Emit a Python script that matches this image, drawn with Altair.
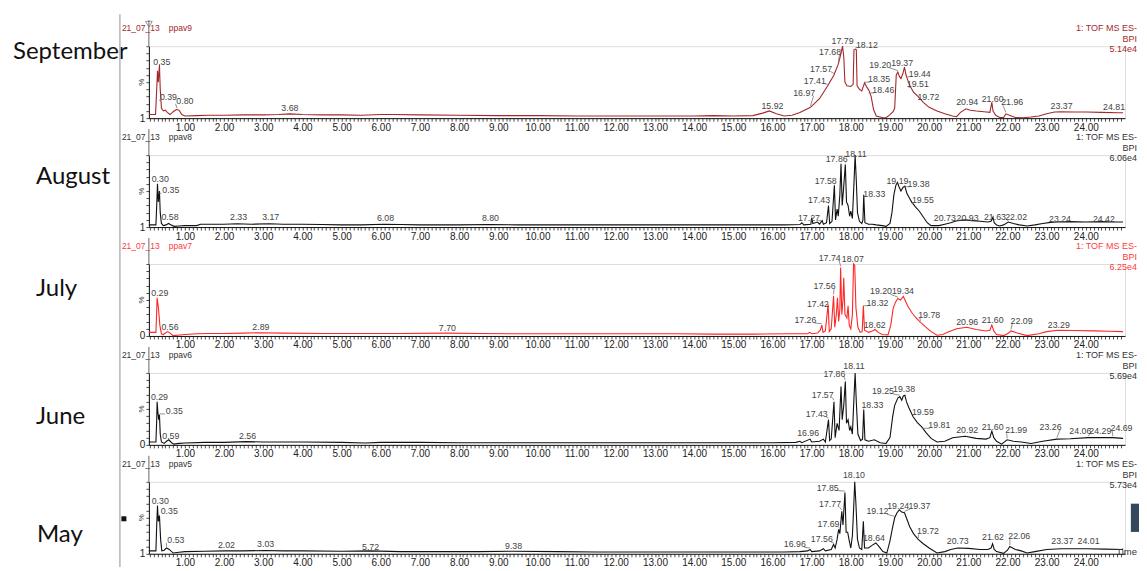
import altair as alt
import numpy as np
import pandas as pd

# ---------------- data ----------------
months = ["September", "August", "July", "June", "May"]
samples = ["ppav9", "ppav8", "ppav7", "ppav6", "ppav5"]
run_id = "21_07_13"
scale_txt = ["5.14e4", "6.06e4", "6.25e4", "5.69e4", "5.73e4"]
y_base_labels = ["1", "1", "0", "0", "1"]
line_colors = ["#a3282b", "#111111", "#ff2626", "#111111", "#111111"]
text_colors = ["#a3282b", "#333333", "#ff3b3b", "#333333", "#333333"]

x_domain = [0.08, 25.0]
x_tick_values = [round(0.1 * i, 1) for i in range(1, 250)]
y_tick_values = [0, 10, 20, 30, 40, 50, 60, 70, 80, 90, 100]

# (retention time, % intensity)
sep_pts = [(0.08,5),(0.25,5),(0.28,40),(0.30,66),(0.32,50),(0.35,74),(0.37,40),(0.40,14),(0.45,10),(0.50,11),
           (0.55,8),(0.62,5),(0.70,9),(0.78,12),(0.85,11),(0.92,5),(1.0,3),(1.3,3.5),(1.6,4),(2.0,4),(2.5,4.5),
           (3.0,4.5),(3.4,5),(3.68,6),(4.0,5),(4.5,4.5),(5.0,4.5),(5.5,4),(6.0,5),(6.3,5),(7.0,4.5),(8.0,4),
           (9.0,3.5),(10.0,3.5),(11.0,3),(12.0,3),(13.0,3),(14.0,3),(14.5,3.5),(15.0,3),(15.5,3.5),(15.75,7),
           (15.92,10),(16.1,6),(16.3,3),(16.5,4),(16.7,8),(16.97,15),(17.2,27),(17.41,45),(17.57,60),(17.68,75),
           (17.75,90),(17.79,100),(17.82,85),(17.85,50),(17.9,45),(18.0,44),(18.06,47),(18.08,95),(18.12,96),
           (18.14,95),(18.16,45),(18.22,40),(18.28,38),(18.35,49),(18.42,42),(18.46,39),(18.52,30),(18.58,12),
           (18.65,3),(18.8,1),(18.9,0.5),(19.0,5),(19.08,9),(19.12,14),(19.16,60),(19.20,64),(19.24,58),
           (19.28,55),(19.33,62),(19.37,71),(19.41,60),(19.44,55),(19.51,45),(19.6,36),(19.72,30),(19.85,22),
           (20.0,15),(20.2,10),(20.4,6),(20.6,3),(20.7,2),(20.8,8),(20.94,13),(21.05,11),(21.2,10),(21.4,9),
           (21.55,8),(21.6,22),(21.63,10),(21.7,4),(21.8,1),(21.9,1),(21.96,6),(22.05,4),(22.2,1),(22.4,0.5),
           (22.6,1.5),(22.8,3),(23.0,6),(23.2,8.5),(23.37,9),(23.7,8.5),(24.0,8.5),(24.4,8),(24.81,7.5),(24.95,7.5)]

aug_pts = [(0.08,3),(0.26,3),(0.28,30),(0.30,60),(0.32,35),(0.35,50),(0.37,20),(0.40,5),(0.45,2),(0.52,3),
           (0.58,5),(0.65,3),(0.72,1),(0.85,1.5),(1.0,2),(1.3,2),(1.4,4),(1.6,4),(2.0,4),(2.33,4.5),(2.7,4),
           (3.17,4.5),(3.5,4),(4.0,4),(4.5,3.5),(5.0,3),(5.5,3),(6.08,4),(6.5,3.5),(7.0,3),(8.0,3),(8.8,3.5),
           (9.5,3),(10.5,3),(11.5,3),(12.5,3),(13.5,3),(14.5,3),(15.5,3),(16.3,3),(16.7,3.5),(16.75,6),(16.8,3),
           (16.98,4),(17.0,13),(17.03,5),(17.15,7),(17.2,4),(17.27,9),(17.3,4),(17.38,6),(17.43,30),(17.46,5),
           (17.52,8),(17.58,58),(17.61,10),(17.65,25),(17.68,15),(17.72,45),(17.75,88),(17.78,30),(17.81,50),
           (17.86,87),(17.89,35),(17.93,30),(17.97,15),(18.0,22),(18.04,12),(18.08,60),(18.11,100),(18.14,65),
           (18.17,20),(18.22,8),(18.28,5),(18.31,10),(18.33,45),(18.36,6),(18.45,4),(18.55,4),(18.65,3),(18.8,2),
           (18.9,1),(19.0,5),(19.05,20),(19.1,45),(19.15,58),(19.19,62),(19.23,56),(19.28,50),(19.33,55),
           (19.38,57),(19.43,47),(19.5,40),(19.55,35),(19.65,28),(19.75,22),(19.85,14),(19.95,6),(20.05,2),
           (20.25,2),(20.4,4),(20.55,6),(20.73,9),(20.93,10),(21.1,9),(21.3,8),(21.5,7),(21.58,8),(21.63,14),
           (21.66,6),(21.72,3),(21.8,1.5),(21.9,3),(22.02,7),(22.15,5),(22.3,3),(22.5,1.5),(22.7,3),(22.9,5),
           (23.1,6.5),(23.24,7),(23.6,7.5),(24.0,7),(24.42,7.5),(24.7,7),(24.95,7)]

jul_pts = [(0.08,5),(0.26,5),(0.28,35),(0.29,53),(0.31,45),(0.33,35),(0.36,15),(0.40,3),(0.45,2),(0.50,4),
           (0.56,6),(0.62,4),(0.70,0.5),(0.8,1),(1.0,2),(1.3,3),(1.6,3.5),(2.0,3.5),(2.5,4),(2.89,4.5),(3.5,4),
           (4.5,3.5),(5.5,3.5),(6.5,3.5),(7.7,4),(8.5,3.5),(9.5,3),(10.5,3),(11.5,3),(12.5,3),(13.5,3),(14.5,2.5),
           (15.5,2.5),(16.5,3),(16.9,3),(16.95,5),(17.0,3),(17.15,4),(17.22,8),(17.26,15),(17.29,5),(17.35,7),
           (17.42,44),(17.45,6),(17.5,10),(17.56,56),(17.59,12),(17.63,30),(17.66,53),(17.69,20),(17.72,37),
           (17.74,95),(17.77,30),(17.8,50),(17.82,81),(17.85,30),(17.9,25),(17.93,42),(17.96,15),(18.0,10),
           (18.04,30),(18.07,100),(18.1,98),(18.13,40),(18.18,12),(18.24,5),(18.29,6),(18.32,42),(18.35,8),
           (18.45,5),(18.55,7),(18.62,9),(18.7,5),(18.8,2),(18.95,1.5),(19.02,15),(19.08,38),(19.14,47),(19.2,52),
           (19.27,50),(19.34,55),(19.4,48),(19.45,42),(19.55,33),(19.65,26),(19.78,19),(19.9,13),(20.05,6),
           (20.2,1),(20.35,2),(20.5,6),(20.7,10),(20.96,12),(21.2,9),(21.45,7),(21.55,8),(21.6,15),(21.65,7),
           (21.72,2),(21.9,0.5),(22.0,3),(22.09,7),(22.25,4),(22.5,0.5),(22.8,3),(23.0,6),(23.29,8),(23.7,7.5),
           (24.2,7),(24.6,6.5),(24.95,6)]

jun_pts = [(0.08,4),(0.26,4),(0.28,35),(0.29,60),(0.31,45),(0.33,35),(0.35,42),(0.37,15),(0.40,4),(0.47,2),
           (0.53,5),(0.59,7),(0.66,3),(0.72,1),(0.85,2),(1.0,2.5),(1.5,3.5),(2.0,3.5),(2.56,4.5),(3.0,4),(4.0,4),
           (5.0,3.5),(5.6,2.5),(6.0,3.5),(7.0,3.5),(8.0,3),(9.0,3),(10.0,3),(11.0,3),(12.0,3),(13.0,3),(14.0,3),
           (15.0,3),(16.0,3),(16.6,3.5),(16.7,5),(16.75,3),(16.96,8),(17.0,4),(17.2,5),(17.3,8),(17.35,4),
           (17.43,35),(17.46,6),(17.5,8),(17.57,60),(17.6,10),(17.65,30),(17.7,20),(17.75,81),(17.78,35),
           (17.82,55),(17.86,88),(17.89,30),(17.93,35),(17.97,20),(18.0,25),(18.04,15),(18.08,65),(18.11,100),
           (18.14,60),(18.18,15),(18.25,6),(18.3,8),(18.33,49),(18.36,7),(18.45,5),(18.6,7),(18.75,3),(18.9,2),
           (19.0,10),(19.07,40),(19.12,55),(19.2,65),(19.25,67),(19.3,62),(19.34,68),(19.38,69),(19.42,60),
           (19.48,52),(19.59,39),(19.7,31),(19.81,25),(19.92,17),(20.05,9),(20.2,4),(20.4,5),(20.6,10),(20.92,12),
           (21.2,9),(21.45,8),(21.55,10),(21.6,19),(21.65,10),(21.72,5),(21.85,1),(21.99,7),(22.15,5),(22.35,4),
           (22.6,2),(22.9,5),(23.26,8),(23.6,8.5),(24.06,10),(24.29,10),(24.69,10),(24.95,9)]

may_pts = [(0.08,4),(0.26,4),(0.28,40),(0.30,67),(0.32,45),(0.35,53),(0.38,20),(0.41,4),(0.47,5),(0.53,8),
           (0.6,6),(0.7,1),(0.85,2),(1.0,3),(1.5,3.5),(2.02,4),(2.5,4),(3.03,4.5),(3.5,4),(4.0,4),(5.0,3.5),
           (5.72,4),(6.5,3),(7.5,3),(8.5,3),(9.38,3.5),(10.5,3),(11.5,2.5),(12.5,2.5),(13.5,2.5),(14.5,2.5),
           (15.5,2.5),(16.3,2.5),(16.7,3),(16.9,4),(16.96,6),(17.0,3),(17.2,4),(17.3,7),(17.35,4),(17.5,6),
           (17.56,13),(17.6,8),(17.65,20),(17.69,34),(17.72,28),(17.77,59),(17.8,40),(17.85,85),(17.88,30),
           (17.92,30),(17.96,18),(18.0,8),(18.04,25),(18.07,60),(18.10,100),(18.13,70),(18.17,20),(18.22,8),
           (18.28,6),(18.32,45),(18.35,8),(18.45,8),(18.55,12),(18.64,15),(18.72,10),(18.82,3),(18.92,1),
           (19.0,18),(19.06,35),(19.12,50),(19.18,57),(19.24,61),(19.3,58),(19.37,57),(19.44,47),(19.5,38),
           (19.6,28),(19.72,20),(19.85,14),(20.0,8),(20.2,1),(20.4,3),(20.55,6),(20.73,8),(21.0,7.5),(21.3,6),
           (21.5,6),(21.58,8),(21.62,14),(21.66,6),(21.72,3),(21.9,0.5),(22.0,5),(22.06,10),(22.2,6),(22.35,4),
           (22.5,1),(22.7,3),(23.0,6),(23.37,7),(24.01,7),(24.5,6.5),(24.95,6)]

# peak annotations: (text, position time, position %)
sep_labels = [("0.35",0.41,78),("0.39",0.58,29),("0.80",1.0,24),("3.68",3.68,14),("15.92",16.0,17),
              ("16.97",16.81,35),("17.41",17.08,52),("17.57",17.24,69),("17.68",17.47,92),("17.79",17.79,107),
              ("18.12",18.41,102),("18.35",18.72,54),("18.46",18.83,39),("19.20",18.75,74),("19.37",19.31,77),
              ("19.44",19.76,62),("19.51",19.71,47),("19.72",19.98,30),("20.94",20.97,22),("21.60",21.62,26),
              ("21.96",22.12,22),("23.37",23.38,17),("24.81",24.72,16)]
aug_labels = [("0.30",0.37,67),("0.35",0.64,51),("0.58",0.62,14),("2.33",2.37,14),("3.17",3.19,14),
              ("6.08",6.12,12),("8.80",8.80,12),("17.27",16.93,13),("17.43",17.19,37),("17.58",17.36,64),
              ("17.86",17.64,94),("18.11",18.13,102),("18.33",18.6,46),("19.19",19.19,64),("19.38",19.73,60),
              ("19.55",19.84,37),("20.73",20.40,13),("20.93",20.98,13),("21.63",21.68,14),("22.02",22.22,14),
              ("23.24",23.34,11),("24.42",24.46,11)]
jul_labels = [("0.29",0.36,60),("0.56",0.62,13),("2.89",2.94,13),("7.70",7.70,11),("17.26",16.84,22),
              ("17.42",17.16,45),("17.56",17.33,69),("17.74",17.46,109),("18.07",18.05,107),("18.32",18.68,46),
              ("18.62",18.61,15),("19.20",18.77,62),("19.34",19.33,63),("19.78",20.0,29),("20.96",20.97,19),
              ("21.60",21.62,22),("22.09",22.36,21),("23.29",23.31,15)]
jun_labels = [("0.29",0.35,67),("0.35",0.73,47),("0.59",0.64,12),("2.56",2.6,12),("16.96",16.91,16),
              ("17.43",17.13,43),("17.57",17.28,70),("17.86",17.58,99),("18.11",18.08,109),("18.33",18.55,56),
              ("19.25",18.82,75),("19.38",19.36,78),("19.59",19.84,45),("19.81",20.26,27),("20.92",20.97,20),
              ("21.60",21.62,25),("21.99",22.22,20),("23.26",23.1,25),("24.06",23.86,19),("24.29",24.37,19),
              ("24.69",24.91,24)]
may_labels = [("0.30",0.37,74),("0.35",0.6,59),("0.53",0.77,19),("2.02",2.06,12),("3.03",3.06,13),
              ("5.72",5.74,10),("9.38",9.39,11),("16.96",16.57,13),("17.56",17.26,20),("17.69",17.43,41),
              ("17.77",17.47,69),("17.85",17.41,92),("18.10",18.08,109),("18.64",18.59,22),("19.12",18.68,59),
              ("19.24",19.21,67),("19.37",19.75,66),("19.72",19.97,31),("20.73",20.73,18),("21.62",21.63,23),
              ("22.06",22.30,25),("23.37",23.40,18),("24.01",24.07,18)]

series = [sep_pts, aug_pts, jul_pts, jun_pts, may_pts]
peak_labels = [sep_labels, aug_labels, jul_labels, jun_labels, may_labels]
month_label_y = [6, 22, 25, 44, 53]
month_label_x = [-136, -113, -113, -113, -112]

# ---------------- layout ----------------
PW, PH = 977, 72
SPACING = 37
FONT = "Liberation Sans"


def leader_table(pts, labs):
    """Leader segments from a displaced label to its peak on the trace."""
    ts = np.array([p[0] for p in pts])
    vs = np.array([p[1] for p in pts])
    rows = []
    for lab, lt, lv in labs:
        val = float(lab)
        if abs(lt - val) > 0.12:
            side = -1 if val < lt else 1
            peak_v = float(np.interp(val, ts, vs))
            rows.append({"t": lt + side * 0.24, "v": lv - 4, "t2": val, "v2": min(peak_v + 2, lv - 4)})
    return pd.DataFrame(rows, columns=["t", "v", "t2", "v2"])


def panel(i):
    df = pd.DataFrame(series[i], columns=["t", "v"])
    ldf = pd.DataFrame(peak_labels[i], columns=["lab", "t", "v"])
    lead = leader_table(series[i], peak_labels[i])
    one = pd.DataFrame({"k": [0]})
    xsc = alt.Scale(domain=x_domain, nice=False, zero=False)
    ysc = alt.Scale(domain=[0, 100], nice=False, zero=False)
    xax = alt.Axis(values=x_tick_values,
                   labelExpr="abs(datum.value - round(datum.value)) < 0.001 ? format(datum.value, '.2f') : ''",
                   tickSize=3, labelPadding=1, labelFontSize=10, labelFont=FONT, labelColor="#222",
                   domainColor="#111", tickColor="#222", tickWidth=0.8, title=None, grid=False,
                   labelOverlap=False, labelFlush=False, labelBound=False)
    yax = alt.Axis(values=y_tick_values, labelExpr=f"datum.value == 0 ? '{y_base_labels[i]}' : ''",
                   tickSize=3, labelPadding=1, labelFontSize=10, labelFont=FONT, labelColor="#222",
                   domainColor="#111", tickColor="#222", tickWidth=0.8, title=None, grid=False,
                   labelOverlap=False)
    enc = dict(x=alt.X("t:Q", scale=xsc, axis=xax), y=alt.Y("v:Q", scale=ysc, axis=yax))

    line = alt.Chart(df).mark_line(color=line_colors[i], strokeWidth=1.1).encode(**enc)
    labs = alt.Chart(ldf).mark_text(fontSize=8.8, font=FONT, color="#444", baseline="middle").encode(
        text="lab:N", **enc)
    leaders = alt.Chart(lead).mark_rule(color="#777", strokeWidth=0.8).encode(
        x2="t2:Q", y2="v2:Q", **enc)

    def txt(s, x, y, **kw):
        return alt.Chart(one).mark_text(text=s, font=FONT, baseline="middle", **kw).encode(
            x=alt.value(x), y=alt.value(y))

    layers = [line, leaders, labs]
    # header and acquisition info
    layers.append(txt(run_id, -27, -18, align="left", fontSize=8.5, color=text_colors[i]))
    layers.append(txt(samples[i], 20, -18, align="left", fontSize=8.5, color=text_colors[i]))
    layers.append(txt("1: TOF MS ES-", 989, -18, align="right", fontSize=9, color=text_colors[i]))
    layers.append(txt("BPI", 989, -7, align="right", fontSize=9, color=text_colors[i]))
    layers.append(txt(scale_txt[i], 989, 3, align="right", fontSize=9, color=text_colors[i]))
    layers.append(txt("%", -7, 36, align="center", fontSize=8, angle=270, color="#333"))
    # month name
    layers.append(alt.Chart(one).mark_text(text=months[i], font="Lato", fontSize=24, align="left",
                                           baseline="middle", color="#111").encode(
        x=alt.value(month_label_x[i]), y=alt.value(month_label_y[i])))
    # y-axis extension up through the header and separator line at left
    layers.append(alt.Chart(one).mark_rule(color="#666", strokeWidth=1).encode(
        x=alt.value(0), y=alt.value(-26), y2=alt.value(0)))
    y_top = -32 if i == 0 else -SPACING
    y_bot = PH + 20 if i == 4 else PH
    layers.append(alt.Chart(one).mark_rule(color="#b5b5b5", strokeWidth=1.5).encode(
        x=alt.value(-29), y=alt.value(y_top), y2=alt.value(y_bot)))
    if i == 0:
        layers.append(alt.Chart(one).mark_point(shape="triangle-down", filled=False, size=45,
                                                color="#666", strokeWidth=1).encode(
            x=alt.value(0), y=alt.value(-22)))
    if i == 4:
        layers.append(txt("Time", 989, 70, align="right", fontSize=9.5, color="#333"))
        layers.append(alt.Chart(one).mark_point(shape="square", filled=True, size=25, color="#111",
                                                opacity=1, strokeWidth=0).encode(
            x=alt.value(-25), y=alt.value(37)))
        layers.append(alt.Chart(one).mark_point(shape="square", filled=True, size=800, color="#35475a",
                                                opacity=1, strokeWidth=0).encode(
            x=alt.value(997), y=alt.value(36)))
    return alt.layer(*layers).properties(width=PW, height=PH)


chart = alt.vconcat(*[panel(i) for i in range(5)], spacing=SPACING, bounds="flush").properties(
    padding={"left": 4, "top": 4, "right": -21, "bottom": -9}
).configure_view(stroke=None).configure(background="white")

chart.save("out.html", embed_options={"renderer": "svg", "actions": False})
